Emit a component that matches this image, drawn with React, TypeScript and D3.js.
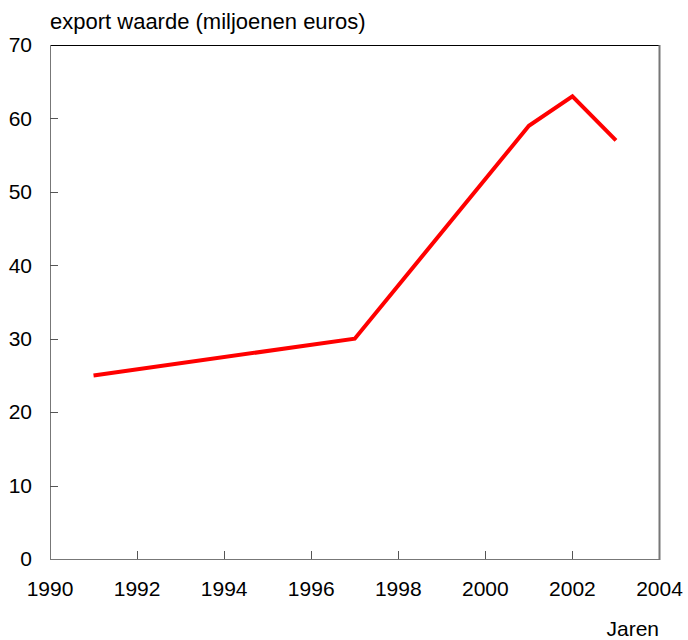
import React from "react";
import * as d3 from "d3";

const years = [1991, 1997, 2001, 2002, 2003];
const values = [25, 30, 59, 63, 57];
const xTicks = [1990, 1992, 1994, 1996, 1998, 2000, 2002, 2004];
const yTicks = [0, 10, 20, 30, 40, 50, 60, 70];
const title = "export waarde (miljoenen euros)";
const xLabel = "Jaren";

export default function App() {
  const W = 688, H = 640;
  const left = 50, right = 659.5, top = 45, bottom = 559;
  const x = d3.scaleLinear().domain([1990, 2004]).range([left, right]);
  const y = d3.scaleLinear().domain([0, 70]).range([bottom, top]);
  const line = d3.line<number>().x((_, i) => x(years[i])).y((d) => y(d));
  const font = "'Liberation Sans', Arial, sans-serif";
  return (
    <svg width={W} height={H} style={{ position: "absolute", left: 0, top: 0 }} fontFamily={font}>
      <rect width={W} height={H} fill="#fff" />
      <text x={50} y={29} fontSize={22} fill="#000">{title}</text>
      {/* frame */}
      <line x1={left} x2={right} y1={top + 0.5} y2={top + 0.5} stroke="#000" strokeWidth={1} />
      <line x1={left + 0.5} x2={left + 0.5} y1={top} y2={bottom} stroke="#777" strokeWidth={1} />
      <line x1={left} x2={right} y1={bottom + 0.5} y2={bottom + 0.5} stroke="#777" strokeWidth={1} />
      <line x1={right} x2={right} y1={top} y2={bottom + 1} stroke="#777" strokeWidth={2} />
      {yTicks.map((t) => (
        <g key={t}>
          {t > 0 && t < 70 && (
            <line x1={left} x2={left + 8} y1={Math.round(y(t)) + 0.5} y2={Math.round(y(t)) + 0.5} stroke="#555" />
          )}
          <text x={32} y={y(t)} dy="0.35em" textAnchor="end" fontSize={21} fill="#000">{t}</text>
        </g>
      ))}
      {xTicks.map((t) => (
        <g key={t}>
          {t > 1990 && t < 2004 && (
            <line x1={Math.round(x(t)) + 0.5} x2={Math.round(x(t)) + 0.5} y1={bottom} y2={bottom - 8} stroke="#555" />
          )}
          <text x={x(t)} y={596} textAnchor="middle" fontSize={21} fill="#000">{t}</text>
        </g>
      ))}
      <text x={659} y={636} textAnchor="end" fontSize={21} fill="#000">{xLabel}</text>
      <path d={line(values) || ""} fill="none" stroke="#ff0000" strokeWidth={4} strokeLinejoin="miter" />
    </svg>
  );
}
